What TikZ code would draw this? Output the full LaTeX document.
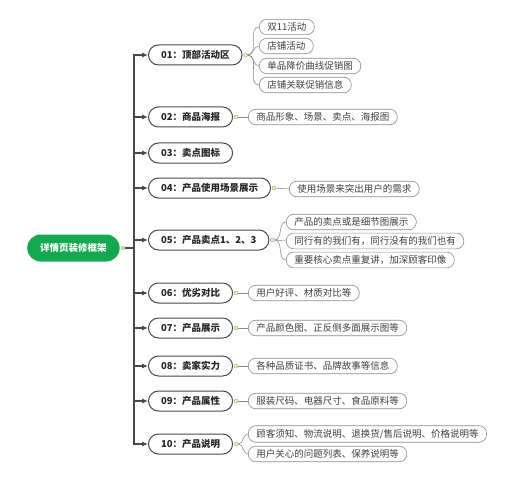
\documentclass[tikz,border=0pt]{standalone}
\usepackage{fontspec}
\setmainfont{Noto Sans CJK SC}
\usetikzlibrary{arrows.meta}
\definecolor{rootgreen}{RGB}{22,168,80}
\definecolor{dotgreen}{RGB}{150,200,100}
\definecolor{darkline}{RGB}{72,72,72}
\definecolor{lightline}{RGB}{140,140,140}
\tikzset{
	root/.style={fill=rootgreen, text=white, font=\fontsize{9.5}{11}\selectfont\bfseries, rounded corners=13.5pt, minimum height=27pt, inner xsep=13pt, anchor=west},
	topic/.style={draw=darkline, line width=1pt, fill=white, text=black!85, font=\fontsize{9.5}{11}\selectfont\bfseries, rounded corners=10pt, minimum height=20pt, inner xsep=12.5pt, anchor=west},
	sub/.style={draw=lightline, line width=0.6pt, fill=white, text=black!75, font=\fontsize{9.5}{11}\selectfont, rounded corners=7.5pt, minimum height=15pt, inner xsep=8pt, anchor=west},
	dot/.style={circle, draw=dotgreen, fill=dotgreen!30, line width=0.5pt, inner sep=0pt, minimum size=4pt},
	rootdot/.style={rectangle, fill=dotgreen!60, inner sep=0pt, minimum size=4pt},
	trunk/.style={draw=darkline, line width=1.1pt},
	link/.style={draw=lightline, line width=0.6pt}
}
\begin{document}
\begin{tikzpicture}[x=1pt, y=-1pt]
	\useasboundingbox (0, 0) rectangle (522, 500);
	\node[root] (R)at(27, 248) {详情页装修框架};
	\node[rootdot] (Rd)at([xshift=3pt]R.east) {};
	\coordinate (T)at(134, 248);

	\node[topic] (A)at(148, 55) {01：顶部活动区};
	\node[topic] (B)at(148, 117) {02：商品海报};
	\node[topic] (C)at(148, 153) {03：卖点图标};
	\node[topic] (D)at(148, 188) {04：产品使用场景展示};
	\node[topic] (E)at(148, 240) {05：产品卖点1、2、3};
	\node[topic] (F)at(148, 293) {06：优劣对比};
	\node[topic] (G)at(148, 328) {07：产品展示};
	\node[topic] (H)at(148, 366) {08：卖家实力};
	\node[topic] (I)at(148, 401) {09：产品属性};
	\node[topic] (J)at(148, 444) {10：产品说明};

	\draw[trunk] (Rd) -- (T);
	\foreach \n in {A,B,C,D,E,F,G,H,I,J}
		\draw[trunk, -{Latex[length=6pt, width=5pt]}] (T) |- (\n.west);

	\node[sub] (A1)at(259, 27) {双11活动};
	\node[sub] (A2)at(259, 46) {店铺活动};
	\node[sub] (A3)at(259, 66) {单品降价曲线促销图};
	\node[sub] (A4)at(259, 85) {店铺关联促销信息};
	\node[sub] (B1)at(248, 117) {商品形象、场景、卖点、海报图};
	\node[sub] (D1)at(289, 189) {使用场景来突出用户的需求};
	\node[sub] (E1)at(286, 222) {产品的卖点或是细节图展示};
	\node[sub] (E2)at(286, 241) {同行有的我们有，同行没有的我们也有};
	\node[sub] (E3)at(286, 260) {重要核心卖点重复讲，加深顾客印像};
	\node[sub] (F1)at(248, 293) {用户好评、材质对比等};
	\node[sub] (G1)at(248, 328) {产品颜色图、正反侧多面展示图等};
	\node[sub] (H1)at(248, 366) {各种品质证书、品牌故事等信息};
	\node[sub] (I1)at(248, 401) {服装尺码、电器尺寸、食品原料等};
	\node[sub] (J1)at(248, 434) {顾客须知、物流说明、退换货/售后说明、价格说明等};
	\node[sub] (J2)at(248, 454) {用户关心的问题列表、保养说明等};

	\foreach \n in {A,B,D,E,F,G,H,I,J}
		\node[dot] (\n d)at([xshift=3pt]\n.east) {};

	\foreach \c in {A1,A2,A3,A4}
		\draw[link] (Ad) to[out=0, in=180] (\c.west);
	\foreach \c in {E1,E2,E3}
		\draw[link] (Ed) to[out=0, in=180] (\c.west);
	\foreach \c in {J1,J2}
		\draw[link] (Jd) to[out=0, in=180] (\c.west);
	\draw[link] (Bd) -- (B1.west);
	\draw[link] (Dd) -- (D1.west);
	\draw[link] (Fd) -- (F1.west);
	\draw[link] (Gd) -- (G1.west);
	\draw[link] (Hd) -- (H1.west);
	\draw[link] (Id) -- (I1.west);
\end{tikzpicture}
\end{document}
